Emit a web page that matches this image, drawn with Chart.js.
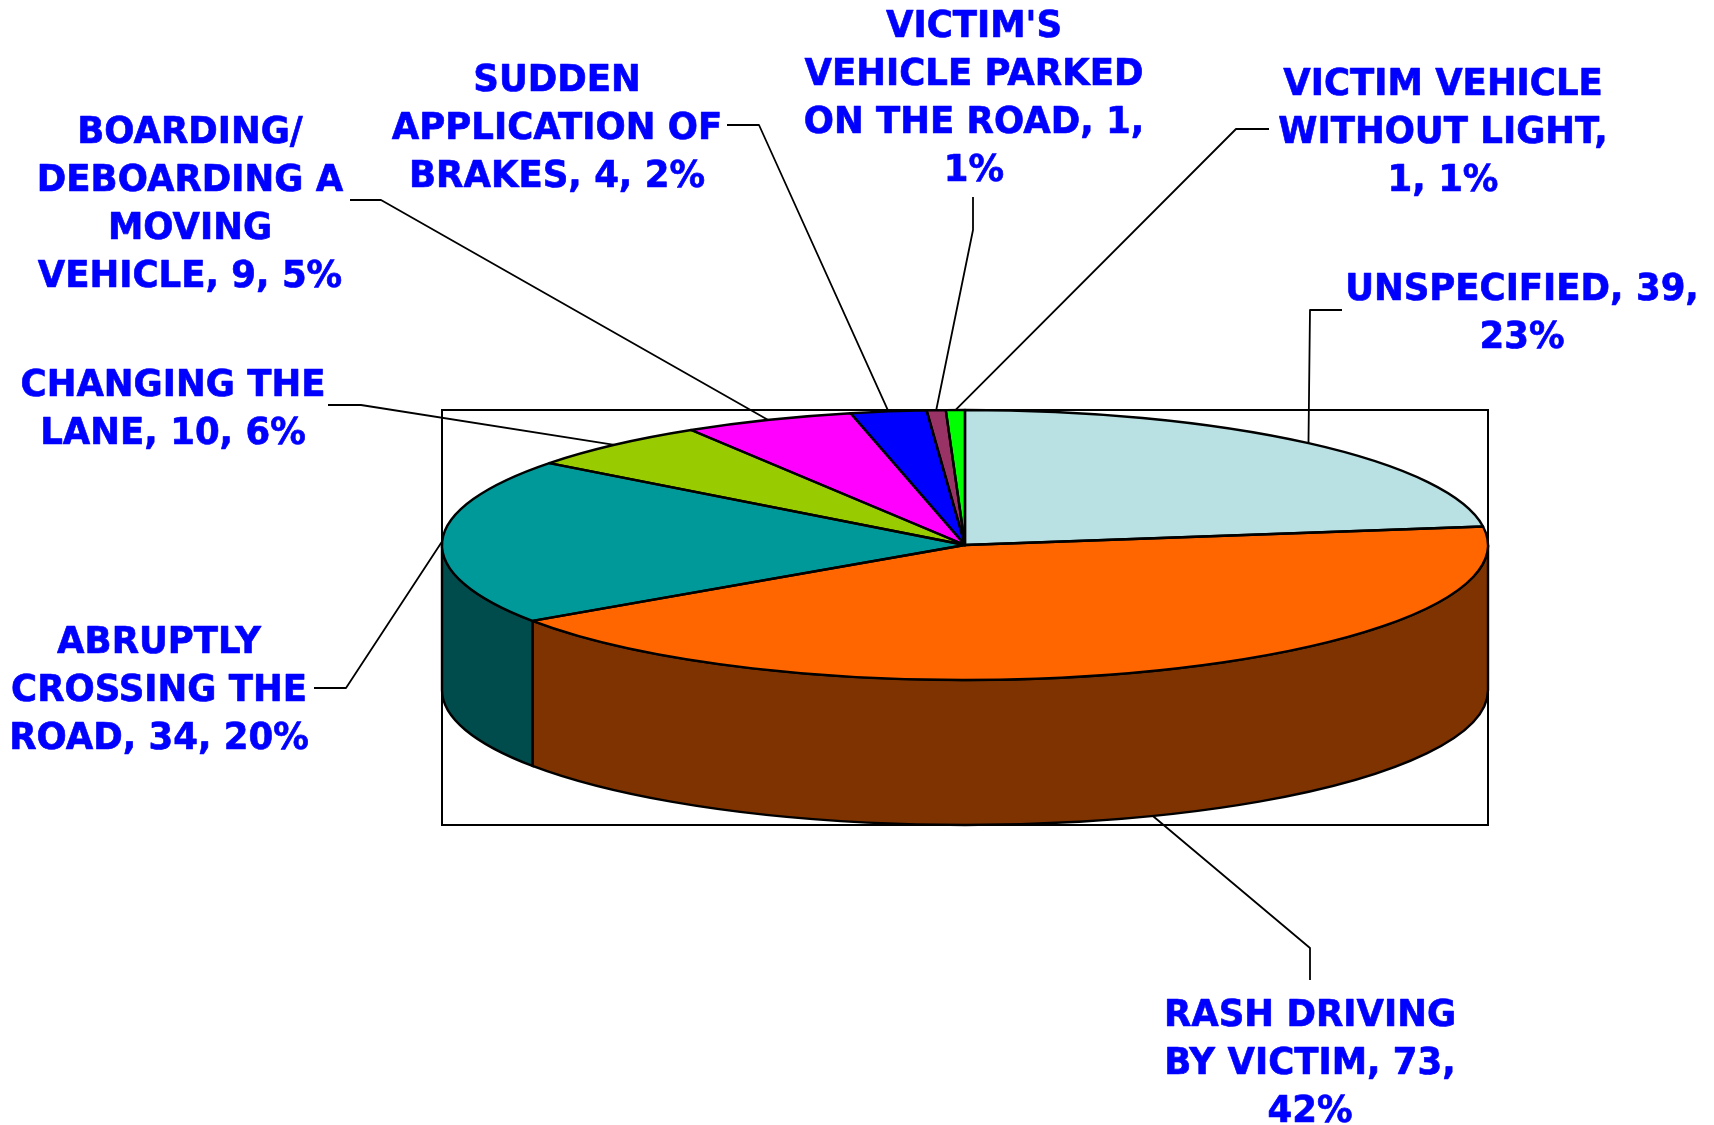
<!DOCTYPE html>
<html><head><meta charset="utf-8">
<style>html,body{margin:0;padding:0;background:#fff}canvas{display:block}</style>
<script src="https://cdn.jsdelivr.net/npm/chart.js@4/dist/chart.umd.min.js"></script>
</head><body>
<canvas id="c" width="1714" height="1125"></canvas>
<script>
const categories = ["UNSPECIFIED","RASH DRIVING BY VICTIM","ABRUPTLY CROSSING THE ROAD","CHANGING THE LANE","BOARDING/ DEBOARDING A MOVING VEHICLE","SUDDEN APPLICATION OF BRAKES","VICTIM'S VEHICLE PARKED ON THE ROAD","VICTIM VEHICLE WITHOUT LIGHT"];
const values = [39,73,34,10,9,4,1,1];
const percents = [23,42,20,6,5,2,1,1];
const topColors = ["#B9E0E3","#FF6600","#009999","#99CC00","#FF00FF","#0000FF","#993366","#00FF00"];
const sideColors = ["#5C7072","#7F3300","#004C4C","#4C6600","#7F007F","#00007F","#4C1933","#007F00"];
const wordsPerLine = [[2,1],[2,3,1],[1,2,3],[2,3],[1,2,1,3],[1,2,3],[1,2,4,1],[2,2,2]];
const labelCenters = [[1522,290],[1310,1016],[159,643],[173,386],[190,133],[557,81],[974,27],[1443,85]];
const leaderElbows = [[[1342,310],[1310,310]],[[1310,980],[1310,948]],[[314,688],[346,688]],[[328,405],[361,405]],[[350,200],[381,200]],[[727,125],[759,125]],[[973,197],[973,230]],[[1269,129],[1236,129]]];
const leaderOnBase = [false,true,false,false,false,false,false,false];

const RY = 135, DEPTH = 145, LINE_H = 48;

function rim(a, angle, dy){ return [a.x + a.outerRadius*Math.cos(angle), a.y + RY*Math.sin(angle) + (dy||0)]; }

const pie3d = {
  id:'pie3d',
  beforeDatasetsDraw(chart){
    const ctx = chart.ctx, arcs = chart.getDatasetMeta(0).data, a0 = arcs[0], R = a0.outerRadius;
    ctx.save();
    ctx.lineWidth = 2; ctx.strokeStyle = '#000';
    ctx.strokeRect(a0.x-R, a0.y-RY, 2*R, 2*RY+DEPTH);
    ctx.lineWidth = 2.4;
    arcs.forEach((a,i)=>{
      for (const k of [0,2]) {
        const s = Math.max(a.startAngle, k*Math.PI), e = Math.min(a.endAngle, (k+1)*Math.PI);
        if (e <= s) continue;
        ctx.beginPath();
        ctx.ellipse(a.x,a.y,R,RY,0,s,e,false);
        ctx.ellipse(a.x,a.y+DEPTH,R,RY,0,e,s,true);
        ctx.closePath();
        ctx.fillStyle = sideColors[i];
        ctx.fill(); ctx.stroke();
      }
    });
    ctx.restore();
    ctx.save();
    ctx.translate(a0.x,a0.y); ctx.scale(1,RY/R); ctx.translate(-a0.x,-a0.y);
  },
  afterDatasetsDraw(chart){
    const ctx = chart.ctx, arcs = chart.getDatasetMeta(0).data;
    ctx.restore();
    ctx.save();
    ctx.lineWidth = 2.4; ctx.strokeStyle = '#000'; ctx.lineJoin='round';
    arcs.forEach(a=>{
      ctx.beginPath();
      ctx.moveTo(a.x,a.y);
      ctx.ellipse(a.x,a.y,a.outerRadius,RY,0,a.startAngle,a.endAngle,false);
      ctx.closePath(); ctx.stroke();
    });
    ctx.lineWidth = 1.8;
    arcs.forEach((a,i)=>{
      const p = rim(a,(a.startAngle+a.endAngle)/2, leaderOnBase[i]?DEPTH:0);
      ctx.beginPath();
      ctx.moveTo(...leaderElbows[i][0]);
      ctx.lineTo(...leaderElbows[i][1]);
      ctx.lineTo(p[0],p[1]);
      ctx.stroke();
    });
    ctx.fillStyle = '#0000FF'; ctx.strokeStyle = '#0000FF'; ctx.lineWidth = 0.7;
    ctx.font = 'bold 37.5px "DejaVu Sans"';
    ctx.textAlign = 'center'; ctx.textBaseline = 'middle';
    categories.forEach((c,i)=>{
      const words = `${c}, ${values[i]}, ${percents[i]}%`.split(' ');
      let n = 0;
      wordsPerLine[i].forEach((w,l)=>{
        const t = words.slice(n,n+w).join(' ');
        ctx.save();
        ctx.translate(labelCenters[i][0], labelCenters[i][1]+l*LINE_H);
        ctx.scale(0.947,1);
        ctx.fillText(t,0,0); ctx.strokeText(t,0,0);
        ctx.restore();
        n += w;
      });
    });
    ctx.restore();
  }
};

new Chart(document.getElementById('c'),{
  type:'pie',
  data:{labels:categories,datasets:[{data:values,backgroundColor:topColors,borderWidth:0}]},
  options:{
    responsive:false,animation:false,events:[],
    layout:{padding:{left:442,right:226,top:22,bottom:57}},
    plugins:{legend:{display:false},tooltip:{enabled:false},title:{display:false}}
  },
  plugins:[pie3d]
});
</script>
</body></html>
